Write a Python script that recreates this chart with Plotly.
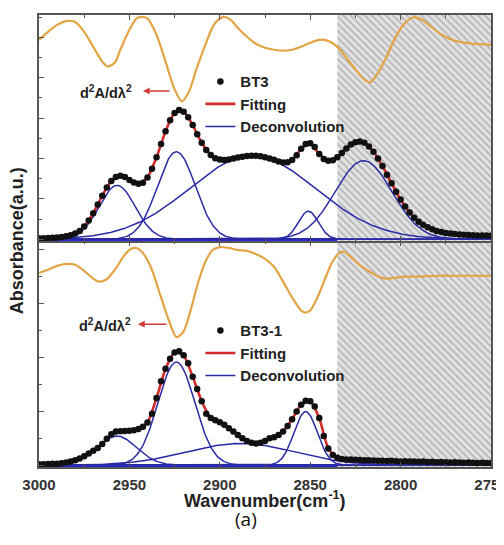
import numpy as np
import plotly.graph_objects as go

# ---------------- data ----------------
wn_dots = np.arange(3000, 2749.9, -2.5)      # sampling of measured spectra
wn_fit = np.arange(3000, 2749.9, -5.0)       # sampling of fitted curves
wn_model = np.linspace(3000, 2750, 501)      # grid for deconvolution bands

bt3_absorbance = [
    0.004, 0.004, 0.005, 0.006, 0.008, 0.010, 0.013, 0.018, 0.025, 0.037,
    0.057, 0.083, 0.116, 0.155, 0.194, 0.231, 0.260, 0.278, 0.283, 0.278,
    0.264, 0.253, 0.247, 0.252, 0.275, 0.314, 0.365, 0.425, 0.482, 0.531,
    0.563, 0.576, 0.569, 0.544, 0.509, 0.468, 0.430, 0.398, 0.376, 0.361,
    0.355, 0.353, 0.356, 0.360, 0.364, 0.368, 0.371, 0.372, 0.372, 0.370,
    0.366, 0.360, 0.354, 0.347, 0.342, 0.343, 0.353, 0.375, 0.403, 0.425,
    0.428, 0.411, 0.380, 0.358, 0.350, 0.352, 0.365, 0.385, 0.405, 0.422,
    0.432, 0.436, 0.430, 0.414, 0.390, 0.360, 0.326, 0.288, 0.250, 0.212,
    0.177, 0.146, 0.119, 0.096, 0.078, 0.064, 0.053, 0.044, 0.037, 0.032,
    0.028, 0.025, 0.023, 0.021, 0.020, 0.019, 0.018, 0.017, 0.016, 0.016,
    0.015]
bt3_fit = [
    0.004, 0.005, 0.008, 0.013, 0.025, 0.057, 0.116, 0.194, 0.260, 0.283,
    0.264, 0.247, 0.275, 0.365, 0.482, 0.563, 0.569, 0.509, 0.430, 0.376,
    0.355, 0.356, 0.364, 0.371, 0.372, 0.366, 0.354, 0.342, 0.353, 0.403,
    0.428, 0.380, 0.350, 0.365, 0.405, 0.432, 0.430, 0.390, 0.326, 0.250,
    0.177, 0.119, 0.078, 0.053, 0.037, 0.028, 0.023, 0.020, 0.018, 0.016,
    0.015]
bt3_d2_wn = [3000, 2995, 2990, 2985, 2980, 2975, 2970, 2965, 2962, 2958,
             2955, 2950, 2946, 2943, 2940, 2935, 2930, 2925, 2921, 2917,
             2913, 2908, 2903, 2898, 2894, 2890, 2885, 2880, 2875, 2870,
             2865, 2860, 2855, 2850, 2845, 2842, 2838, 2835, 2830, 2825,
             2820, 2817, 2813, 2808, 2803, 2798, 2793, 2788, 2783, 2778,
             2773, 2768, 2760, 2750]
bt3_d2 = [0.889, 0.925, 0.956, 0.973, 0.969, 0.925, 0.858, 0.792, 0.770, 0.788,
          0.845, 0.934, 0.985, 0.992, 0.985, 0.912, 0.792, 0.668, 0.615, 0.659,
          0.757, 0.867, 0.960, 0.992, 0.978, 0.942, 0.903, 0.872, 0.854, 0.845,
          0.841, 0.845, 0.858, 0.876, 0.889, 0.889, 0.876, 0.858, 0.810, 0.757,
          0.712, 0.699, 0.735, 0.810, 0.898, 0.960, 0.990, 0.978, 0.947, 0.916,
          0.894, 0.881, 0.872, 0.867]
bt3_band_center = [2956.8, 2924.0, 2882.0, 2851.0, 2820.5]
bt3_band_height = [0.240, 0.390, 0.372, 0.125, 0.350]
bt3_band_sigma = [10.0, 10.5, 35.0, 5.5, 15.7]

bt31_absorbance = [
    0.004, 0.004, 0.005, 0.006, 0.007, 0.009, 0.012, 0.016, 0.022, 0.030,
    0.040, 0.052, 0.064, 0.077, 0.095, 0.118, 0.138, 0.150, 0.152, 0.153,
    0.154, 0.156, 0.162, 0.172, 0.190, 0.230, 0.300, 0.375, 0.430, 0.475,
    0.503, 0.508, 0.490, 0.455, 0.395, 0.340, 0.285, 0.230, 0.210, 0.200,
    0.192, 0.180, 0.165, 0.150, 0.135, 0.120, 0.108, 0.100, 0.097, 0.100,
    0.108, 0.120, 0.125, 0.135, 0.150, 0.175, 0.205, 0.240, 0.270, 0.287,
    0.285, 0.262, 0.210, 0.130, 0.075, 0.045, 0.033, 0.028, 0.026, 0.025,
    0.024, 0.023, 0.022, 0.022, 0.021, 0.020, 0.020, 0.019, 0.020, 0.018,
    0.017, 0.018, 0.016, 0.016, 0.015, 0.016, 0.014, 0.015, 0.013, 0.014,
    0.013, 0.012, 0.013, 0.012, 0.011, 0.012, 0.011, 0.010, 0.011, 0.010,
    0.010]
bt31_fit = [
    0.004, 0.005, 0.007, 0.012, 0.022, 0.040, 0.064, 0.095, 0.138, 0.152,
    0.154, 0.162, 0.190, 0.300, 0.430, 0.503, 0.490, 0.395, 0.285, 0.210,
    0.192, 0.165, 0.135, 0.108, 0.097, 0.108, 0.125, 0.150, 0.205, 0.270,
    0.285, 0.210, 0.075, 0.033, 0.026, 0.024, 0.022, 0.021, 0.020, 0.019,
    0.017, 0.016, 0.015, 0.014, 0.013, 0.013, 0.012, 0.011, 0.011, 0.011,
    0.010]
bt31_d2_wn = [3000, 2995, 2990, 2985, 2980, 2975, 2970, 2967, 2963, 2958,
              2953, 2949, 2946, 2943, 2938, 2933, 2928, 2924, 2920, 2916,
              2912, 2908, 2904, 2900, 2895, 2890, 2885, 2880, 2875, 2870,
              2865, 2860, 2855, 2853, 2850, 2846, 2842, 2838, 2834, 2831,
              2827, 2822, 2817, 2812, 2808, 2803, 2798, 2790, 2780, 2770,
              2760, 2750]
bt31_d2 = [0.858, 0.872, 0.889, 0.898, 0.894, 0.867, 0.832, 0.819, 0.827, 0.872,
           0.934, 0.965, 0.969, 0.951, 0.881, 0.761, 0.642, 0.571, 0.597, 0.695,
           0.814, 0.907, 0.960, 0.973, 0.969, 0.960, 0.956, 0.942, 0.920, 0.885,
           0.819, 0.748, 0.690, 0.681, 0.690, 0.748, 0.827, 0.903, 0.947, 0.951,
           0.925, 0.889, 0.863, 0.841, 0.832, 0.836, 0.841, 0.841, 0.845, 0.845,
           0.845, 0.845]
bt31_band_center = [2957.0, 2924.0, 2888.5, 2852.5]
bt31_band_height = [0.130, 0.460, 0.097, 0.239]
bt31_band_sigma = [11.0, 10.2, 30.0, 6.5]

hatch_region = [2835, 2750]
x_ticks = [3000, 2950, 2900, 2850, 2800, 2750]

# ---------------- styling ----------------
ORANGE = "#e2a445"
RED = "#d42a2a"
BLUE = "#2a2aa6"
BASE_BLUE = "#2a2ad0"
FRAME = "#555555"
FONT = "Liberation Sans, Arial, sans-serif"
YR = [-0.008, 1.0]


def band(c, h, s):
    return h * np.exp(-(wn_model - c) ** 2 / (2.0 * s * s))


fig = go.Figure()


def add_panel(xa, ya, legend, label, dots, fit, d2_wn, d2, centers, heights, sigmas):
    fig.add_trace(go.Scatter(
        x=[hatch_region[0], hatch_region[1], hatch_region[1], hatch_region[0], hatch_region[0]],
        y=[-0.1, -0.1, 1.1, 1.1, -0.1], xaxis=xa, yaxis=ya, mode="lines",
        line=dict(width=0), fill="toself", fillcolor="#e2e2e2",
        fillpattern=dict(shape="\\", fgcolor="#858585", bgcolor="#e2e2e2",
                         size=5, solidity=0.33),
        showlegend=False, hoverinfo="skip"))
    fig.add_trace(go.Scatter(
        x=d2_wn, y=d2, xaxis=xa, yaxis=ya, mode="lines",
        line=dict(color=ORANGE, width=2.2, shape="spline", smoothing=0.8),
        showlegend=False, hoverinfo="skip"))
    for i, (c, h, s) in enumerate(zip(centers, heights, sigmas)):
        fig.add_trace(go.Scatter(
            x=wn_model, y=band(c, h, s), xaxis=xa, yaxis=ya, mode="lines",
            line=dict(color=BLUE, width=1.5), name="Deconvolution",
            legend=legend, legendrank=3, showlegend=(i == 0), legendgroup=legend + "d"))
    fig.add_trace(go.Scatter(
        x=wn_fit, y=fit, xaxis=xa, yaxis=ya, mode="lines",
        line=dict(color=RED, width=2.6, shape="spline", smoothing=0.6),
        name="Fitting", legend=legend, legendrank=2))
    fig.add_trace(go.Scatter(
        x=wn_dots, y=dots, xaxis=xa, yaxis=ya, mode="markers",
        marker=dict(color="#111111", size=6.5), name=label,
        legend=legend, legendrank=1))


add_panel("x2", "y2", "legend", "BT3", bt3_absorbance, bt3_fit, bt3_d2_wn, bt3_d2,
          bt3_band_center, bt3_band_height, bt3_band_sigma)
add_panel("x", "y", "legend2", "BT3-1", bt31_absorbance, bt31_fit, bt31_d2_wn, bt31_d2,
          bt31_band_center, bt31_band_height, bt31_band_sigma)

xcommon = dict(range=[3000, 2750], showline=True, linecolor=FRAME, linewidth=1.5,
               mirror="ticks", ticks="inside", ticklen=5, tickcolor=FRAME,
               tickvals=x_ticks, showgrid=False, zeroline=False, automargin=False,
               minor=dict(ticks="inside", ticklen=3, dtick=25, tickcolor=FRAME))
ycommon = dict(range=YR, showline=True, linecolor=FRAME, linewidth=1.5,
               mirror=True, ticks="inside", ticklen=5, tickcolor=FRAME,
               showticklabels=False, showgrid=False, automargin=False,
               zeroline=True, zerolinecolor=BASE_BLUE, zerolinewidth=2.5)

legend_style = dict(xanchor="left", yanchor="top", bgcolor="rgba(0,0,0,0)",
                    font=dict(family=FONT, size=15, color="#222222", weight="bold"),
                    itemwidth=30, tracegroupgap=0, traceorder="normal")

# the page body adds an 8px offset, so the figure is sized to fit the window
fig.update_layout(
    width=496, height=537,
    margin=dict(l=31, r=13, t=7, b=78, autoexpand=False),
    paper_bgcolor="white", plot_bgcolor="white",
    font=dict(family=FONT, color="#222222"),
    xaxis=dict(domain=[0, 1], anchor="y", ticktext=[str(v) for v in x_ticks],
               tickfont=dict(family=FONT, size=15, color="#333333", weight="bold"),
               ticklabelstandoff=3, ticklabeloverflow="allow", **xcommon),
    xaxis2=dict(domain=[0, 1], anchor="y2", matches="x", showticklabels=False, **xcommon),
    yaxis=dict(domain=[0, 0.5], anchor="x", dtick=0.24, tick0=0,
               minor=dict(ticks="inside", ticklen=3, dtick=0.12, tickcolor=FRAME), **ycommon),
    yaxis2=dict(domain=[0.5, 1], anchor="x2", dtick=0.18, tick0=0,
                minor=dict(ticks="inside", ticklen=3, dtick=0.09, tickcolor=FRAME), **ycommon),
    legend=dict(x=0.357, y=0.889, **legend_style),
    legend2=dict(x=0.357, y=0.338, **legend_style),
    showlegend=True,
)

ann_font = dict(family=FONT, size=14.5, color="#222222", weight="bold")
fig.add_annotation(x=0.148, y=0.830, xref="paper", yref="paper", xanchor="center",
                   yanchor="middle", text="d<sup>2</sup>A/dλ<sup>2</sup>",
                   showarrow=False, font=ann_font)
fig.add_annotation(x=0.146, y=0.314, xref="paper", yref="paper", xanchor="center",
                   yanchor="middle", text="d<sup>2</sup>A/dλ<sup>2</sup>",
                   showarrow=False, font=ann_font)
for hx, hy, tail in [(0.230, 0.832, 28), (0.219, 0.316, 30)]:
    fig.add_annotation(x=hx, y=hy, xref="paper", yref="paper", text="",
                       showarrow=True, ax=tail, ay=0, arrowhead=2, arrowsize=0.9,
                       arrowwidth=1.5, arrowcolor="#d23a3a")

fig.add_annotation(x=0.5, y=-0.072, xref="paper", yref="paper", xanchor="center",
                   yanchor="middle", text="Wavenumber(cm<sup>-1</sup>)", showarrow=False,
                   font=dict(family=FONT, size=18, color="#222222", weight="bold"))
fig.add_annotation(x=-0.048, y=0.5, xref="paper", yref="paper", xanchor="center",
                   yanchor="middle", textangle=-90,
                   text="Absorbance(a.u.)", showarrow=False,
                   font=dict(family=FONT, size=18, color="#222222", weight="bold"))
fig.add_annotation(x=0.458, y=-0.114, xref="paper", yref="paper", xanchor="center",
                   yanchor="middle", text="(a)", showarrow=False,
                   font=dict(family="Open Sans, Liberation Sans, sans-serif", size=19,
                             color="#111111"))

fig.write_html("out.html")
